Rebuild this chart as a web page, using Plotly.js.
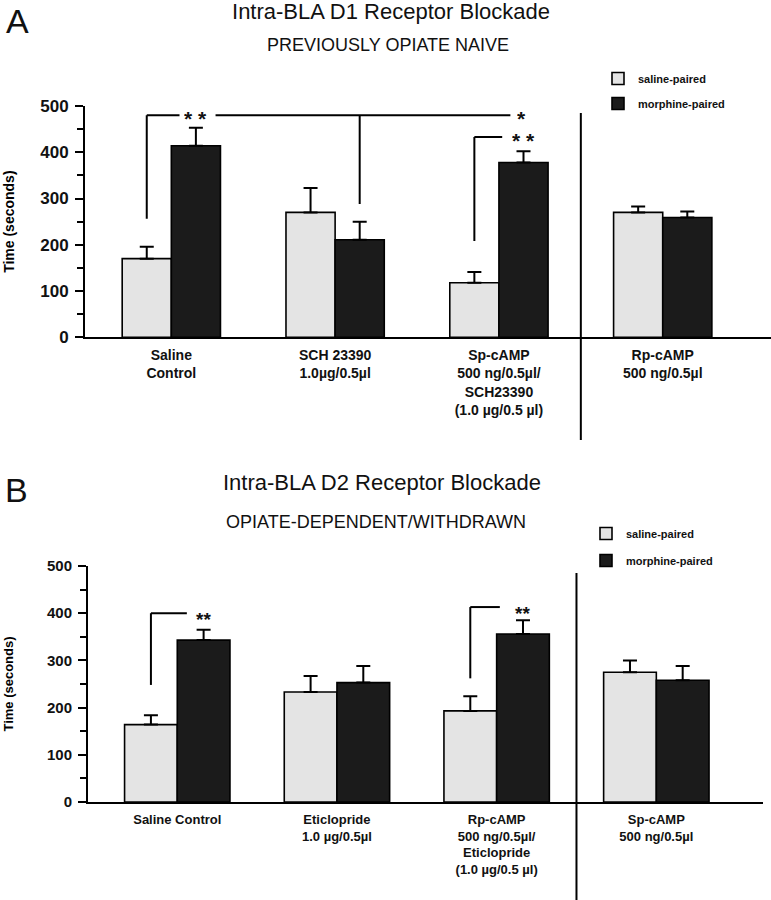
<!DOCTYPE html>
<html><head><meta charset="utf-8">
<script src="https://cdn.plot.ly/plotly-3.0.1.min.js"></script>
<style>html,body{margin:0;padding:0;background:#fff}#chart{width:771px;height:900px}</style>
</head><body><div id="chart"></div>
<script>
// ---- Panel A data ----
const categoriesA = ['Saline<br>Control', 'SCH 23390<br>1.0µg/0.5µl', 'Sp-cAMP<br>500 ng/0.5µl/<br>SCH23390<br>(1.0 µg/0.5 µl)', 'Rp-cAMP<br>500 ng/0.5µl'];
const salineA = [170, 270, 118, 270];
const salineErrA = [26, 53, 23, 13];
const morphineA = [414, 211, 378, 259];
const morphineErrA = [39, 39, 24, 13];

// ---- Panel B data ----
const categoriesB = ['Saline Control', 'Eticlopride<br>1.0 µg/0.5µl', 'Rp-cAMP<br>500 ng/0.5µl/<br>Eticlopride<br>(1.0 µg/0.5 µl)', 'Sp-cAMP<br>500 ng/0.5µl'];
const salineB = [164, 233, 193, 275];
const salineErrB = [20, 34, 31, 25];
const morphineB = [343, 253, 356, 258];
const morphineErrB = [22, 35, 29, 30];

const seriesNames = ['saline-paired', 'morphine-paired'];

const FONT = 'Liberation Sans, Arial, Helvetica, sans-serif';
const SAL = '#e4e4e4', MOR = '#1b1b1b';
const W = 771, H = 900;
const px = v => v / W, py = v => 1 - v / H;

function bar(x, y, err, name, color, xa, ya, legend, w, off) {
  return {
    type: 'bar', x: x, y: y, name: name, xaxis: xa, yaxis: ya,
    width: w, offset: off, legend: legend, legendgroup: legend + name, showlegend: true,
    marker: {color: color, line: {color: '#000', width: 1.6}},
    error_y: {type: 'data', symmetric: false, array: err, arrayminus: err.map(() => 0),
      color: '#000', thickness: 2, width: 7},
    hoverinfo: 'x+y'
  };
}
const wA = 0.3, wB = 0.33;
const data = [
  bar(categoriesA, salineA, salineErrA, seriesNames[0], SAL, 'x', 'y', 'legend', wA, -wA),
  bar(categoriesA, morphineA, morphineErrA, seriesNames[1], MOR, 'x', 'y', 'legend', wA, 0),
  bar(categoriesB, salineB, salineErrB, seriesNames[0], SAL, 'x2', 'y2', 'legend2', wB, -wB),
  bar(categoriesB, morphineB, morphineErrB, seriesNames[1], MOR, 'x2', 'y2', 'legend2', wB, 0)
];

function yax(domain, tickSize, titleSize, standoff, anchor) {
  return {
    domain: domain, range: [0, 500], anchor: anchor, tickmode: 'linear', tick0: 0, dtick: 100,
    ticks: 'outside', ticklen: 8, tickwidth: 2, tickcolor: '#000',
    minor: {dtick: 50, ticks: 'outside', ticklen: 6, tickwidth: 2, tickcolor: '#000'},
    showline: true, linecolor: '#000', linewidth: 2, showgrid: false, zeroline: false,
    tickfont: {family: FONT, size: tickSize, color: '#111', weight: 'bold'},
    ticklabelstandoff: 3,
    title: {text: 'Time (seconds)', font: {family: FONT, size: titleSize, color: '#000', weight: 'bold'}, standoff: standoff},
    fixedrange: true
  };
}
function xax(domain, range, size, anchor) {
  return {
    domain: domain, range: range, anchor: anchor, type: 'category',
    showline: true, linecolor: '#000', linewidth: 2, ticks: '', showgrid: false, zeroline: false,
    tickfont: {family: FONT, size: size, color: '#111', weight: 'bold'}, tickangle: 0,
    ticklabelstandoff: 4, fixedrange: true
  };
}
function line(xref, yref, x0, y0, x1, y1) {
  return {type: 'line', xref: xref, yref: yref, x0: x0, y0: y0, x1: x1, y1: y1, line: {color: '#000', width: 2}};
}
function star(xref, yref, x, y, text, size, h) {
  const a = {xref: xref, yref: yref, x: x, y: y, text: text, showarrow: false, xanchor: 'center', yanchor: 'middle',
    yshift: -6, font: {family: FONT, size: size, color: '#111', weight: 'bold'}};
  if (h) { a.height = h; a.valign = 'top'; a.yshift = -2; }
  return a;
}
function txt(x, y, text, size, yanchor) {
  return {xref: 'paper', yref: 'paper', x: px(x), y: py(y), text: text, showarrow: false,
    xanchor: 'center', yanchor: yanchor || 'middle', font: {family: FONT, size: size, color: '#111'}};
}

const shapes = [
  // Panel A brackets
  line('x', 'y', -0.15, 256, -0.15, 480),
  line('x', 'y', -0.15, 480, 0.05, 480),
  line('x', 'y', 0.27, 480, 2.07, 480),
  line('x', 'y', 1.15, 480, 1.15, 288),
  line('x', 'y', 1.85, 208, 1.85, 433),
  line('x', 'y', 1.85, 433, 2.02, 433),
  // Panel A divider
  {type: 'line', xref: 'x', yref: 'paper', x0: 2.5, x1: 2.5, y0: py(113), y1: py(440), line: {color: '#000', width: 2}},
  // Panel B brackets
  line('x2', 'y2', -0.165, 248, -0.165, 400),
  line('x2', 'y2', -0.165, 400, 0.06, 400),
  line('x2', 'y2', 1.835, 262, 1.835, 413),
  line('x2', 'y2', 1.835, 413, 2.02, 413),
  // Panel B divider
  {type: 'line', xref: 'x2', yref: 'paper', x0: 2.5, x1: 2.5, y0: py(573), y1: 0, line: {color: '#000', width: 2}}
];

const annotations = [
  txt(17, 0, 'A', 34, 'top'),
  txt(388, 45, 'PREVIOUSLY OPIATE NAIVE', 18),
  txt(16, 469, 'B', 34, 'top'),
  txt(382, 483, 'Intra-BLA D2 Receptor Blockade', 22),
  txt(376, 522, 'OPIATE-DEPENDENT/WITHDRAWN', 18),
  star('x', 'y', 0.15, 480, '* *', 21, 20),
  star('x', 'y', 2.14, 480, '*', 21, 20),
  star('x', 'y', 2.15, 433, '* *', 21, 20),
  star('x2', 'y2', 0.165, 400, '**', 19),
  star('x2', 'y2', 2.165, 413, '**', 19)
];

const layout = {
  width: W, height: H, autosize: false,
  margin: {l: 0, r: 0, t: 0, b: 0},
  paper_bgcolor: '#fff', plot_bgcolor: 'rgba(0,0,0,0)',
  font: {family: FONT, color: '#111'},
  title: {text: 'Intra-BLA D1 Receptor Blockade', x: px(391), xanchor: 'center', y: py(11), yanchor: 'middle',
    font: {family: FONT, size: 22, color: '#111'}},
  barmode: 'overlay',
  xaxis: xax([px(85), 1], [-0.527, 3.661], 14, 'y'),
  yaxis: yax([py(337.3), py(106)], 17, 14, 22, 'x'),
  xaxis2: xax([px(88), px(763)], [-0.559, 3.668], 13, 'y2'),
  yaxis2: yax([py(802), py(566)], 15, 13, 30, 'x2'),
  legend: {x: px(598), xanchor: 'left', y: py(64), yanchor: 'top', bgcolor: 'rgba(0,0,0,0)',
    font: {family: FONT, size: 11, color: '#111', weight: 'bold'}, tracegroupgap: 6, itemwidth: 30},
  legend2: {x: px(586), xanchor: 'left', y: py(519), yanchor: 'top', bgcolor: 'rgba(0,0,0,0)',
    font: {family: FONT, size: 11, color: '#111', weight: 'bold'}, tracegroupgap: 8, itemwidth: 30},
  shapes: shapes,
  annotations: annotations,
  showlegend: true
};

Plotly.newPlot('chart', data, layout, {staticPlot: true, displayModeBar: false});
</script></body></html>
